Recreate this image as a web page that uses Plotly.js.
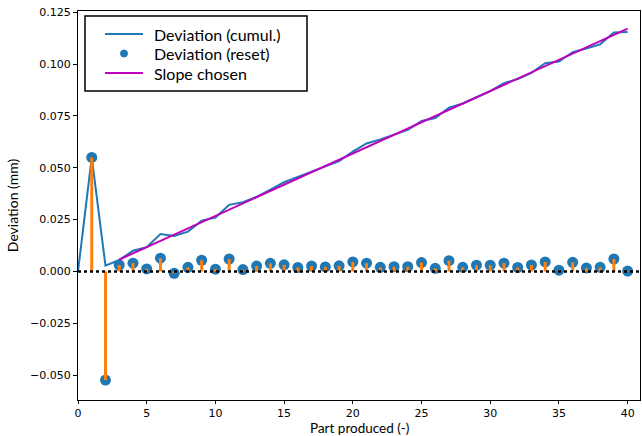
<!DOCTYPE html>
<html>
<head>
<meta charset="utf-8">
<script src="https://cdn.plot.ly/plotly-3.0.1.min.js"></script>
<style>html,body{margin:0;padding:0;background:#fff;}#chart{width:642px;height:436px;}</style>
</head>
<body>
<div id="chart"></div>
<script>
// Part numbers
var parts = [0,1,2,3,4,5,6,7,8,9,10,11,12,13,14,15,16,17,18,19,20,21,22,23,24,25,26,27,28,29,30,31,32,33,34,35,36,37,38,39,40];
// Cumulative deviation (mm)
var cumulDev = [0,0.055,0.0028,0.0055,0.0100,0.0117,0.0180,0.0171,0.0192,0.0245,0.0260,0.0321,0.0334,0.0360,0.0395,0.0430,0.0456,0.0482,0.0505,0.0532,0.0578,0.0617,0.0637,0.0660,0.0683,0.0726,0.0740,0.0790,0.0810,0.0840,0.0870,0.0908,0.0928,0.0958,0.1004,0.1012,0.1058,0.1075,0.1095,0.1152,0.1155];
// Reset deviation (mm), parts 1..40
var resetParts = [1,2,3,4,5,6,7,8,9,10,11,12,13,14,15,16,17,18,19,20,21,22,23,24,25,26,27,28,29,30,31,32,33,34,35,36,37,38,39,40];
var resetDev = [0.055,-0.0524,0.0031,0.0040,0.0012,0.0064,-0.0009,0.0020,0.0054,0.0011,0.0060,0.0009,0.0026,0.0039,0.0032,0.0019,0.0026,0.0022,0.0027,0.0046,0.0040,0.0020,0.0023,0.0023,0.0043,0.0015,0.0052,0.0020,0.0030,0.0030,0.0040,0.0019,0.0031,0.0046,0.0006,0.0044,0.0017,0.0020,0.0060,0.0002];
// Chosen slope line endpoints
var slopeX = [3, 40];
var slopeY = [0.0057, 0.1171];
// Axis ticks
var xTicks = [0,5,10,15,20,25,30,35,40];
var yTicks = [-0.050,-0.025,0.000,0.025,0.050,0.075,0.100,0.125];
// Legend entries and axis titles
var legendNames = ['Deviation (cumul.)', 'Deviation (reset)', 'Slope chosen'];
var xTitle = 'Part produced (-)';
var yTitle = 'Deviation (mm)';

var C_BLUE = '#1f77b4', C_ORANGE = '#ff7f0e', C_MAG = '#bf00bf';

var stemX = [], stemY = [];
for (var i = 0; i < resetParts.length; i++) {
  stemX.push(resetParts[i], resetParts[i], null);
  stemY.push(0, resetDev[i], null);
}

var traces = [
  {x: parts, y: cumulDev, mode: 'lines', name: legendNames[0],
   line: {color: C_BLUE, width: 2}},
  {x: resetParts, y: resetDev, mode: 'markers', name: legendNames[1],
   marker: {color: C_BLUE, size: 11}},
  {x: stemX, y: stemY, mode: 'lines', hoverinfo: 'skip',
   line: {color: C_ORANGE, width: 3}},
  {x: slopeX, y: slopeY, mode: 'lines', name: legendNames[2],
   line: {color: C_MAG, width: 2}},
  {x: [0, 40.9], y: [0, 0], mode: 'lines', hoverinfo: 'skip',
   line: {color: '#000', width: 2.5, dash: '3px,3px'}}
];

// custom legend (paper coordinates)
var plotL = 78, plotR = 640, plotT = 11, plotB = 400;
function px2x(p) { return (p - plotL) / (plotR - plotL); }
function py2y(p) { return (plotB - p) / (plotB - plotT); }
var rowsY = [34, 53.5, 73];
var shapes = [
  {type: 'rect', xref: 'paper', yref: 'paper', x0: px2x(85), x1: px2x(307), y0: py2y(91), y1: py2y(16),
   line: {color: '#000', width: 1.5}, fillcolor: '#fff', layer: 'above'},
  {type: 'line', xref: 'paper', yref: 'paper', x0: px2x(105), x1: px2x(143), y0: py2y(rowsY[0]), y1: py2y(rowsY[0]),
   line: {color: C_BLUE, width: 2}, layer: 'above'},
  {type: 'circle', xref: 'paper', yref: 'paper', xsizemode: 'pixel', ysizemode: 'pixel',
   xanchor: px2x(124), yanchor: py2y(rowsY[1]), x0: -3.5, x1: 3.5, y0: -3.5, y1: 3.5,
   line: {color: C_BLUE, width: 1}, fillcolor: C_BLUE, layer: 'above'},
  {type: 'line', xref: 'paper', yref: 'paper', x0: px2x(105), x1: px2x(143), y0: py2y(rowsY[2]), y1: py2y(rowsY[2]),
   line: {color: C_MAG, width: 2}, layer: 'above'}
];
var annotations = legendNames.map(function (n, k) {
  return {text: n, xref: 'paper', yref: 'paper', x: px2x(152), y: py2y(rowsY[k]),
          xanchor: 'left', yanchor: 'middle', showarrow: false,
          font: {family: 'Lato', size: 16, color: '#000'}};
});
annotations.push({text: xTitle, xref: 'paper', yref: 'paper', x: 0.5, y: py2y(427.5),
  xanchor: 'center', yanchor: 'middle', showarrow: false, borderpad: 0,
  font: {family: 'Lato', size: 13.5, color: '#000'}});

var axisFont = {family: 'DejaVu Sans', size: 11, color: '#000'};
var layout = {
  width: 642, height: 436,
  margin: {l: plotL, r: 642 - plotR, t: plotT, b: 436 - plotB},
  paper_bgcolor: '#fff', plot_bgcolor: '#fff',
  showlegend: false,
  shapes: shapes,
  annotations: annotations,
  xaxis: {range: [0, 40.9], tickvals: xTicks, ticktext: xTicks.map(String),
          showgrid: false, zeroline: false, showline: true, linecolor: '#000', linewidth: 1,
          mirror: true, ticks: 'outside', ticklen: 3, tickcolor: '#000',
          tickfont: axisFont},
  yaxis: {range: [-0.062, 0.1256], tickvals: yTicks, tickformat: '.3f',
          showgrid: false, zeroline: false, showline: true, linecolor: '#000', linewidth: 1,
          mirror: true, ticks: 'outside', ticklen: 4, tickcolor: '#000',
          tickfont: axisFont,
          title: {text: yTitle, font: {family: 'Lato', size: 14, color: '#000'}, standoff: 8}}
};

Plotly.newPlot('chart', traces, layout, {displayModeBar: false, staticPlot: true});
</script>
</body>
</html>
